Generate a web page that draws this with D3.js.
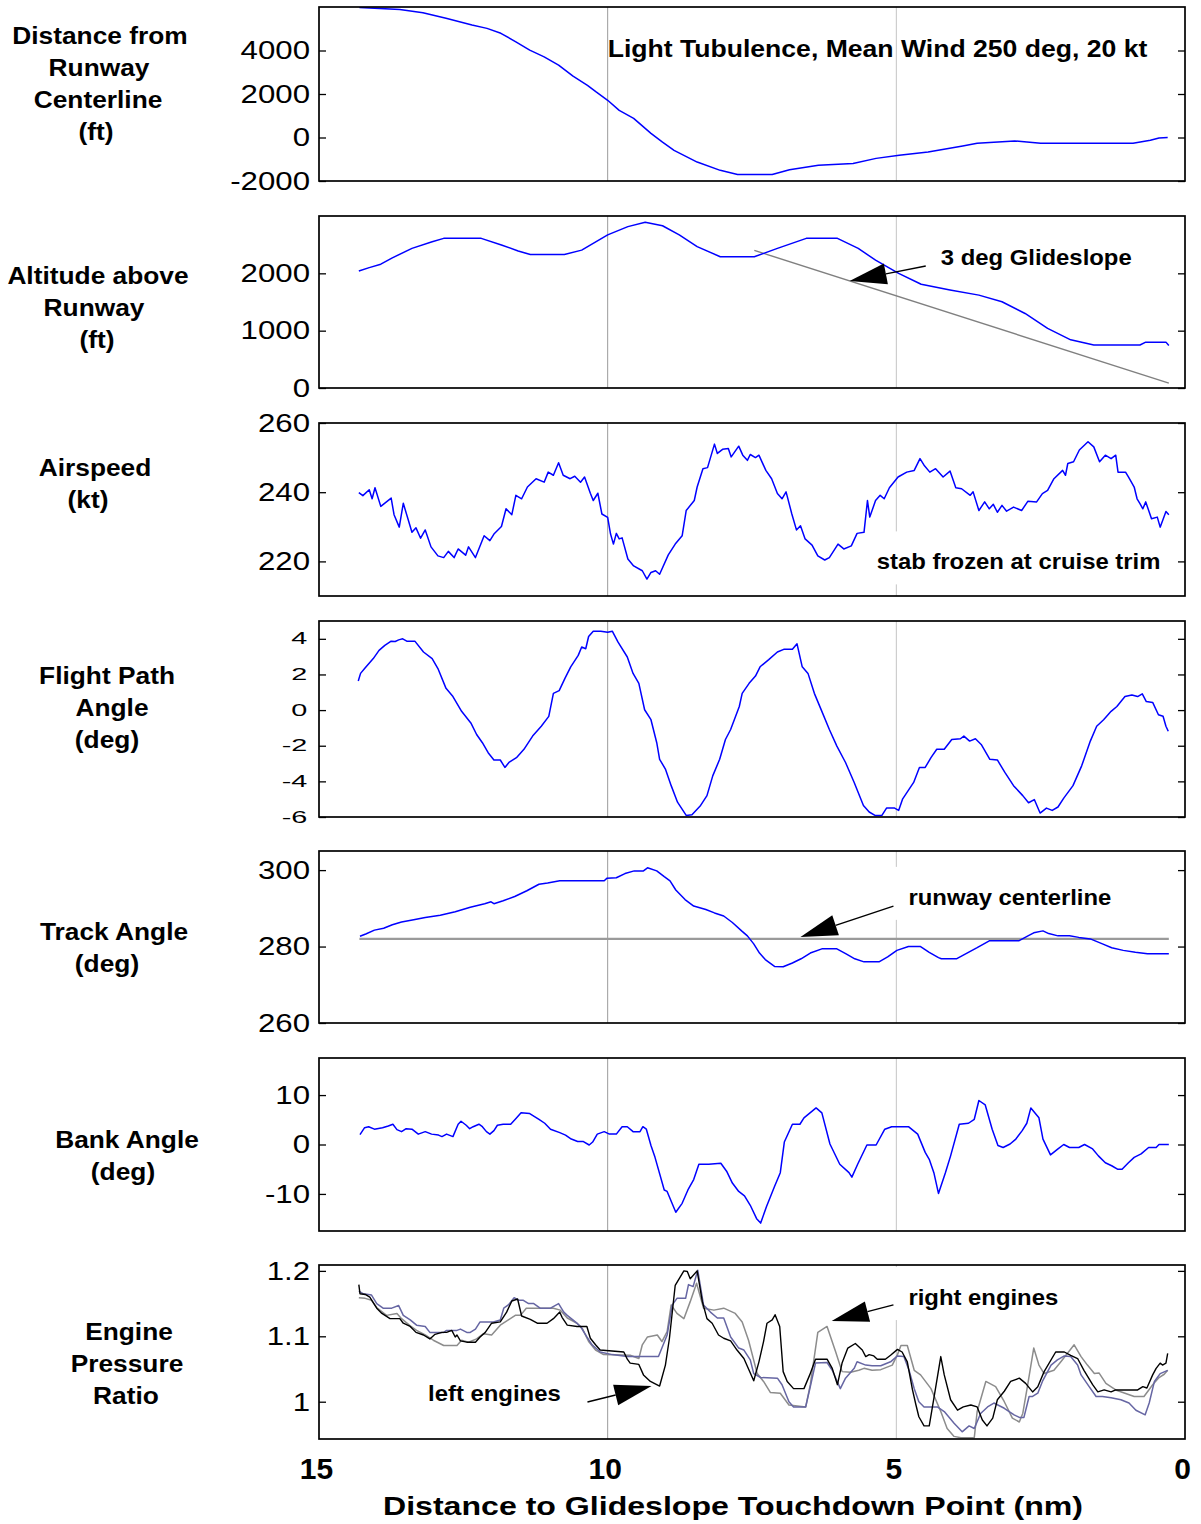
<!DOCTYPE html>
<html>
<head>
<meta charset="utf-8">
<script src="https://cdn.jsdelivr.net/npm/d3@7"></script>
<style>
html,body{margin:0;padding:0;background:#fff;}
svg{display:block;font-family:"Liberation Sans",Arial,Helvetica,sans-serif;}
</style>
</head>
<body>
<svg id="chart" width="1201" height="1524"></svg>
<script>
// ================= DATA (distance to touchdown in nm, value) =================
const xTicks = [15, 10, 5, 0];
const gridDistances = [10, 5];

const ticksCross = [-2000, 0, 2000, 4000];
const ticksAlt = [0, 1000, 2000];
const ticksSpeed = [220, 240, 260];
const ticksFpa = [-6, -4, -2, 0, 2, 4];
const ticksTrack = [260, 280, 300];
const ticksBank = [-10, 0, 10];
const ticksEpr = [1, 1.1, 1.2];

// Distance from runway centerline (ft)
const crossTrack = [[14.3,5980],[13.6,5890],[13.2,5740],[12.8,5480],[12.35,5170],[12.09,5018],[11.85,4790],[11.59,4400],[11.35,4020],[11.10,3710],[10.85,3330],[10.60,2820],[10.35,2400],[10.20,2095],[10.0,1710],[9.80,1250],[9.55,880],[9.25,190],[9.05,-210],[8.85,-590],[8.45,-1130],[8.05,-1510],[7.75,-1700],[7.15,-1700],[6.85,-1480],[6.35,-1280],[5.75,-1200],[5.35,-960],[4.95,-820],[4.45,-670],[3.85,-390],[3.6,-260],[2.95,-160],[2.5,-260],[0.9,-260],[0.6,-130],[0.45,-25],[0.3,0]];

// Altitude above runway (ft)
const altitude = [[14.31,2040],[14.13,2100],[13.93,2160],[13.73,2270],[13.39,2435],[13.04,2550],[12.84,2610],[12.19,2610],[11.84,2495],[11.55,2390],[11.34,2330],[10.75,2330],[10.45,2405],[10.0,2670],[9.65,2815],[9.35,2890],[9.05,2830],[8.76,2670],[8.45,2465],[8.05,2290],[7.46,2290],[7.06,2435],[6.56,2610],[6.02,2610],[5.66,2435],[5.36,2230],[4.96,2000],[4.57,1810],[4.07,1710],[3.57,1620],[3.17,1505],[2.77,1300],[2.38,1040],[1.98,840],[1.58,750],[0.78,750],[0.68,800],[0.33,800],[0.28,740]];
const glideslope = [[7.46,2400],[0.28,85]];

// Airspeed (kt)
const airspeed = [[14.31,239.9],[14.24,239],[14.13,240.7],[14.08,238.1],[14.03,241.3],[13.93,235.9],[13.75,238.3],[13.70,233.5],[13.61,229.9],[13.54,236.8],[13.39,228.4],[13.32,229.7],[13.24,226.7],[13.16,229.1],[13.06,224.2],[12.94,221.6],[12.84,221.1],[12.76,222.9],[12.66,221.1],[12.59,223.6],[12.46,221.8],[12.41,224.2],[12.29,221.1],[12.14,227.4],[12.04,226],[11.97,227.9],[11.84,230.1],[11.76,235.2],[11.66,233.5],[11.59,239.1],[11.49,238.1],[11.39,241.5],[11.24,243.9],[11.10,242.9],[11.03,245.8],[10.94,244.9],[10.85,248.5],[10.77,244.9],[10.65,243.9],[10.57,244.6],[10.47,242.9],[10.40,244.4],[10.30,239.7],[10.25,237.6],[10.17,239.7],[10.10,233.7],[10.00,232.7],[9.95,227.9],[9.90,225],[9.85,228.1],[9.80,226.5],[9.75,226.8],[9.65,220.7],[9.55,218.7],[9.40,217.3],[9.32,214.9],[9.25,216.8],[9.17,217.3],[9.10,216.3],[8.95,221.9],[8.83,225],[8.71,227.4],[8.64,234.7],[8.50,237.6],[8.45,241.5],[8.35,246.8],[8.27,247.1],[8.15,253.9],[8.10,251.2],[8.01,252.4],[7.91,252.6],[7.86,250.2],[7.73,253.3],[7.66,250.7],[7.58,249.2],[7.53,250.9],[7.44,250],[7.38,250.7],[7.26,246.3],[7.16,243.9],[7.06,239.6],[6.98,238.1],[6.91,240.1],[6.81,233.7],[6.73,229.1],[6.66,230.3],[6.58,226.5],[6.46,224.7],[6.36,221.6],[6.24,220.4],[6.16,221.1],[6.01,225],[5.91,223.6],[5.78,224.5],[5.68,228.1],[5.56,228.4],[5.50,237.6],[5.46,232.8],[5.36,237.6],[5.28,239.1],[5.21,238.1],[5.12,241.3],[4.97,244.4],[4.82,245.8],[4.69,246.3],[4.59,249.7],[4.52,247.8],[4.42,245.8],[4.32,246.8],[4.19,244.4],[4.07,246.1],[3.97,241.3],[3.87,241],[3.72,239.1],[3.67,240.1],[3.57,234.7],[3.47,237.2],[3.39,235.2],[3.32,236.5],[3.25,234.2],[3.17,236.2],[3.09,234.5],[2.97,235.7],[2.83,234.7],[2.72,237.4],[2.57,237.2],[2.47,239.6],[2.38,240.5],[2.27,243.9],[2.12,246.3],[2.07,244.9],[2.03,248.3],[1.93,248.8],[1.83,252.2],[1.68,254.6],[1.58,253.1],[1.48,248.8],[1.38,250.7],[1.28,249.7],[1.20,250.7],[1.16,245.8],[1.03,245.8],[0.98,244.4],[0.88,241.5],[0.83,238.1],[0.78,236.7],[0.73,235.2],[0.68,237.2],[0.58,232.3],[0.48,232.8],[0.43,229.9],[0.33,234.4],[0.28,233.5]];

// Flight path angle (deg)
const flightPath = [[14.32,1.63],[14.28,2.06],[14.21,2.33],[14.06,2.89],[13.96,3.35],[13.86,3.63],[13.75,3.87],[13.68,3.85],[13.62,3.94],[13.55,4.0],[13.48,3.87],[13.34,3.87],[13.19,3.26],[13.04,2.89],[12.94,2.33],[12.80,1.22],[12.68,0.76],[12.53,-0.07],[12.37,-0.72],[12.27,-1.37],[12.17,-1.83],[12.07,-2.39],[11.97,-2.80],[11.86,-2.80],[11.78,-3.22],[11.71,-2.94],[11.58,-2.67],[11.45,-2.20],[11.30,-1.46],[11.15,-0.91],[11.02,-0.35],[10.94,0.94],[10.84,1.09],[10.74,1.78],[10.64,2.43],[10.51,3.07],[10.45,3.54],[10.38,3.44],[10.33,4.13],[10.25,4.43],[10.12,4.43],[10.00,4.37],[9.92,4.43],[9.82,3.81],[9.66,2.98],[9.56,2.06],[9.46,1.50],[9.36,0.02],[9.25,-0.54],[9.15,-1.83],[9.10,-2.76],[9.00,-3.31],[8.90,-4.24],[8.79,-5.17],[8.64,-5.91],[8.54,-5.87],[8.39,-5.35],[8.28,-4.80],[8.18,-3.69],[8.06,-2.76],[7.96,-1.65],[7.87,-1.09],[7.72,0.20],[7.67,0.94],[7.55,1.50],[7.44,1.91],[7.36,2.43],[7.21,2.83],[7.06,3.26],[6.95,3.41],[6.80,3.41],[6.72,3.72],[6.63,2.43],[6.53,2.06],[6.42,0.94],[6.29,-0.07],[6.16,-1.09],[6.03,-2.02],[5.88,-2.94],[5.73,-4.06],[5.57,-5.35],[5.47,-5.72],[5.37,-5.91],[5.25,-5.91],[5.17,-5.50],[5.03,-5.50],[4.96,-5.63],[4.89,-4.98],[4.70,-4.06],[4.60,-3.22],[4.50,-3.22],[4.40,-2.67],[4.30,-2.20],[4.17,-2.20],[4.04,-1.65],[3.89,-1.61],[3.83,-1.46],[3.73,-1.74],[3.63,-1.61],[3.53,-1.93],[3.38,-2.76],[3.25,-2.80],[3.12,-3.50],[2.97,-4.24],[2.81,-4.80],[2.71,-5.20],[2.61,-5.02],[2.51,-5.78],[2.40,-5.50],[2.30,-5.63],[2.20,-5.44],[2.10,-4.94],[1.94,-4.24],[1.79,-3.13],[1.64,-1.74],[1.53,-0.91],[1.41,-0.54],[1.28,-0.07],[1.18,0.20],[1.04,0.76],[0.92,0.85],[0.82,0.76],[0.74,0.91],[0.67,0.48],[0.56,0.43],[0.46,-0.26],[0.38,-0.35],[0.33,-0.91],[0.29,-1.19]];

// Track angle (deg)
const trackAngle = [[14.29,282.7],[14.19,283.3],[14.04,284.3],[13.88,284.8],[13.73,285.7],[13.57,286.4],[13.36,287],[13.16,287.6],[12.90,288.2],[12.64,289.1],[12.38,290.3],[12.13,291.2],[12.02,291.7],[11.97,291.2],[11.81,292],[11.61,293.1],[11.40,294.6],[11.19,296.3],[11.04,296.6],[10.83,297.2],[10.06,297.2],[10.01,297.9],[9.85,298],[9.70,299.1],[9.54,299.8],[9.38,299.8],[9.31,300.6],[9.15,299.8],[9.02,298.3],[8.92,297.2],[8.82,294.8],[8.66,292.3],[8.51,290.6],[8.30,289.7],[8.15,288.8],[7.99,288],[7.84,286.3],[7.68,284.1],[7.58,282.8],[7.47,280.7],[7.37,278.3],[7.27,276.6],[7.11,274.8],[6.96,274.7],[6.80,275.7],[6.65,276.8],[6.49,278.3],[6.29,279.4],[6.03,279.4],[5.87,278.1],[5.72,276.8],[5.56,276],[5.30,276],[5.15,277.3],[4.99,279],[4.79,280],[4.58,280],[4.43,278.5],[4.27,277.1],[4.22,276.8],[3.96,276.8],[3.80,278.1],[3.60,279.7],[3.39,281.5],[2.88,281.5],[2.72,282.8],[2.62,283.6],[2.46,284.1],[2.36,283.4],[2.20,282.8],[2.00,282.8],[1.84,282.4],[1.64,282],[1.43,280.7],[1.27,279.7],[1.07,279],[0.86,278.5],[0.65,278.1],[0.28,278.1]];
const runwayCenterline = [[14.3,282],[0.28,282]];

// Bank angle (deg)
const bankAngle = [[14.29,2.0],[14.21,3.4],[14.14,3.6],[14.04,3.1],[13.90,3.4],[13.80,3.75],[13.72,4.1],[13.65,3.0],[13.57,2.6],[13.49,3.2],[13.39,3.1],[13.28,2.1],[13.16,2.6],[13.05,2.1],[12.93,1.9],[12.87,1.6],[12.79,2.1],[12.68,1.6],[12.59,4.1],[12.54,4.7],[12.45,3.9],[12.39,3.2],[12.33,3.6],[12.23,4.1],[12.17,3.6],[12.10,2.6],[12.04,2.1],[11.97,2.8],[11.91,3.9],[11.81,4.1],[11.68,4.1],[11.60,5.1],[11.50,6.4],[11.35,6.25],[11.19,5.1],[11.09,4.3],[10.99,3.1],[10.83,2.4],[10.73,1.9],[10.63,1.1],[10.52,0.6],[10.42,0.6],[10.32,-0.1],[10.26,0.5],[10.18,2.1],[10.06,2.6],[9.97,2.1],[9.85,2.1],[9.75,3.6],[9.66,3.6],[9.56,2.6],[9.44,2.6],[9.39,3.6],[9.33,3.1],[9.25,-0.2],[9.18,-2.6],[9.02,-9.2],[8.97,-9.5],[8.82,-13.7],[8.71,-11.9],[8.61,-9.2],[8.51,-7.1],[8.42,-4.0],[8.25,-4.0],[8.04,-3.8],[7.94,-5.4],[7.84,-7.8],[7.73,-9.5],[7.63,-10.4],[7.53,-12.3],[7.42,-15.0],[7.35,-15.9],[7.25,-12.6],[7.11,-8.5],[7.01,-5.7],[6.94,0.5],[6.80,4.1],[6.67,4.1],[6.60,5.4],[6.39,7.4],[6.29,6.4],[6.15,0.1],[5.98,-4.0],[5.82,-5.7],[5.77,-6.6],[5.67,-4.0],[5.51,-0.1],[5.35,-0.1],[5.20,3.1],[5.08,3.6],[4.79,3.6],[4.63,2.1],[4.50,-1.6],[4.43,-3.0],[4.35,-5.7],[4.27,-9.9],[4.15,-5.7],[4.06,-2.3],[3.91,4.1],[3.75,4.3],[3.65,5.1],[3.57,8.9],[3.46,8.0],[3.34,3.1],[3.24,-0.2],[3.15,-0.6],[3.03,0.1],[2.93,1.1],[2.82,2.8],[2.74,4.3],[2.67,7.4],[2.53,5.4],[2.46,1.1],[2.33,-2.1],[2.20,-0.9],[2.10,0],[2.00,-0.6],[1.84,-0.6],[1.74,0],[1.60,-0.9],[1.50,-2.3],[1.38,-3.7],[1.27,-4.3],[1.17,-5.0],[1.09,-5.0],[0.98,-3.7],[0.88,-2.6],[0.76,-1.9],[0.63,-0.6],[0.50,-0.6],[0.45,0],[0.28,0]];

// Engine pressure ratio
const eprLeft = [[14.31,1.179],[14.29,1.165],[14.20,1.164],[14.12,1.160],[14.00,1.143],[13.91,1.135],[13.77,1.127],[13.60,1.127],[13.54,1.120],[13.42,1.115],[13.32,1.106],[13.19,1.102],[13.08,1.096],[12.99,1.103],[12.87,1.106],[12.79,1.106],[12.70,1.109],[12.64,1.099],[12.61,1.102],[12.55,1.093],[12.44,1.091],[12.29,1.091],[12.21,1.099],[12.12,1.106],[12.01,1.120],[11.86,1.122],[11.75,1.137],[11.66,1.154],[11.56,1.157],[11.49,1.131],[11.34,1.126],[11.22,1.120],[11.05,1.120],[10.94,1.127],[10.83,1.137],[10.79,1.129],[10.70,1.117],[10.53,1.115],[10.36,1.115],[10.30,1.097],[10.21,1.087],[10.13,1.079],[9.72,1.076],[9.66,1.065],[9.61,1.059],[9.46,1.057],[9.38,1.041],[9.26,1.031],[9.10,1.024],[9.00,1.056],[8.93,1.097],[8.83,1.178],[8.68,1.200],[8.62,1.199],[8.57,1.188],[8.45,1.200],[8.36,1.153],[8.28,1.127],[8.19,1.120],[8.08,1.102],[7.99,1.097],[7.87,1.093],[7.76,1.079],[7.64,1.066],[7.47,1.032],[7.38,1.061],[7.30,1.092],[7.24,1.120],[7.15,1.125],[7.10,1.133],[7.02,1.115],[6.96,1.046],[6.89,1.031],[6.78,1.020],[6.60,1.020],[6.50,1.041],[6.40,1.065],[6.20,1.065],[6.11,1.051],[6.02,1.026],[5.94,1.059],[5.84,1.082],[5.71,1.089],[5.59,1.079],[5.53,1.069],[5.47,1.072],[5.39,1.070],[5.33,1.065],[5.19,1.065],[5.10,1.071],[4.98,1.080],[4.90,1.076],[4.81,1.061],[4.72,1.018],[4.66,0.995],[4.61,0.977],[4.52,0.963],[4.43,0.963],[4.35,1.005],[4.23,1.069],[4.17,1.041],[4.06,1.003],[3.94,0.987],[3.84,0.992],[3.71,0.995],[3.60,0.992],[3.51,0.972],[3.43,0.963],[3.33,0.975],[3.25,1.003],[3.13,1.016],[3.02,1.031],[2.87,1.036],[2.76,1.028],[2.64,1.015],[2.55,1.023],[2.44,1.046],[2.24,1.076],[2.09,1.076],[1.98,1.071],[1.86,1.066],[1.75,1.048],[1.60,1.026],[1.51,1.015],[1.40,1.018],[1.28,1.015],[1.20,1.018],[0.82,1.018],[0.73,1.023],[0.66,1.021],[0.56,1.041],[0.50,1.051],[0.43,1.059],[0.39,1.056],[0.33,1.059],[0.30,1.074]];
const eprMid = [[14.31,1.169],[14.23,1.165],[14.09,1.163],[14.00,1.150],[13.89,1.143],[13.74,1.143],[13.62,1.147],[13.54,1.132],[13.42,1.125],[13.31,1.117],[13.16,1.115],[13.08,1.106],[12.84,1.106],[12.79,1.109],[12.61,1.109],[12.55,1.111],[12.44,1.106],[12.38,1.106],[12.29,1.111],[12.21,1.122],[11.98,1.122],[11.86,1.125],[11.80,1.143],[11.72,1.148],[11.62,1.159],[11.54,1.155],[11.46,1.155],[11.37,1.150],[11.28,1.150],[11.17,1.143],[10.99,1.143],[10.85,1.150],[10.76,1.137],[10.70,1.132],[10.56,1.122],[10.47,1.115],[10.36,1.099],[10.27,1.087],[10.13,1.076],[9.92,1.072],[9.66,1.069],[9.12,1.069],[8.97,1.102],[8.88,1.148],[8.80,1.158],[8.65,1.158],[8.60,1.179],[8.52,1.176],[8.44,1.201],[8.34,1.148],[8.22,1.137],[8.10,1.128],[7.99,1.128],[7.87,1.099],[7.73,1.082],[7.64,1.079],[7.53,1.064],[7.47,1.043],[7.35,1.037],[7.06,1.036],[6.98,1.026],[6.86,1.000],[6.78,0.992],[6.57,0.992],[6.49,1.023],[6.40,1.059],[6.20,1.060],[6.11,1.048],[5.97,1.020],[5.88,1.036],[5.73,1.051],[5.68,1.061],[5.53,1.056],[5.42,1.055],[5.27,1.055],[5.10,1.061],[4.98,1.070],[4.87,1.069],[4.78,1.048],[4.69,1.020],[4.61,1.000],[4.52,0.992],[4.29,0.992],[4.17,0.985],[4.00,0.967],[3.86,0.954],[3.74,0.963],[3.65,0.959],[3.54,0.982],[3.42,0.992],[3.31,0.998],[3.13,0.990],[2.96,0.980],[2.87,0.976],[2.79,0.976],[2.70,1.008],[2.64,1.008],[2.55,1.013],[2.47,1.031],[2.32,1.056],[2.21,1.064],[2.09,1.070],[1.98,1.069],[1.86,1.056],[1.80,1.041],[1.66,1.023],[1.54,1.008],[1.43,1.008],[1.28,1.006],[1.11,1.003],[0.97,0.998],[0.85,0.987],[0.69,0.980],[0.62,0.998],[0.53,1.031],[0.43,1.043],[0.30,1.048]];
const eprRight = [[14.31,1.159],[14.20,1.158],[14.09,1.155],[14.00,1.144],[13.83,1.132],[13.65,1.135],[13.57,1.127],[13.42,1.116],[13.31,1.109],[13.16,1.102],[13.02,1.094],[12.84,1.086],[12.61,1.086],[12.53,1.094],[12.41,1.091],[12.27,1.096],[12.15,1.104],[12.01,1.102],[11.86,1.117],[11.72,1.125],[11.60,1.132],[11.51,1.132],[11.41,1.143],[10.94,1.143],[10.82,1.140],[10.70,1.128],[10.53,1.120],[10.44,1.112],[10.33,1.092],[10.21,1.079],[10.07,1.072],[9.61,1.071],[9.46,1.066],[9.40,1.087],[9.31,1.099],[9.14,1.102],[9.06,1.092],[8.97,1.107],[8.90,1.148],[8.80,1.135],[8.68,1.127],[8.57,1.153],[8.46,1.181],[8.34,1.143],[8.16,1.140],[7.99,1.143],[7.79,1.135],[7.67,1.122],[7.56,1.094],[7.41,1.043],[7.30,1.031],[7.18,1.014],[7.01,1.013],[6.86,0.995],[6.57,0.992],[6.49,1.026],[6.36,1.106],[6.20,1.115],[6.05,1.076],[5.94,1.046],[5.79,1.045],[5.65,1.048],[5.56,1.051],[5.42,1.048],[5.27,1.049],[5.07,1.056],[4.98,1.072],[4.92,1.086],[4.81,1.086],[4.69,1.048],[4.58,1.041],[4.40,1.020],[4.23,0.985],[4.12,0.959],[4.00,0.947],[3.88,0.945],[3.65,0.945],[3.60,0.985],[3.45,1.031],[3.28,1.023],[3.13,1.000],[2.99,0.975],[2.87,0.969],[2.81,0.982],[2.73,1.023],[2.62,1.082],[2.53,1.056],[2.44,1.043],[2.27,1.048],[2.15,1.061],[1.92,1.087],[1.80,1.069],[1.69,1.056],[1.57,1.043],[1.49,1.044],[1.37,1.028],[1.20,1.018],[0.88,1.008],[0.71,1.008],[0.56,1.026],[0.45,1.037],[0.36,1.042],[0.30,1.048]];

// Annotation texts (anchored in data units) and arrows
const annotationTexts = [
  {panel:0, text:"Light Tubulence, Mean Wind 250 deg, 20 kt", d:10.0, v:4100, big:true},
  {panel:1, text:"3 deg Glideslope", d:4.23, v:2285},
  {panel:2, text:"stab frozen at cruise trim", d:5.34, v:220, bg:[6,6]},
  {panel:4, text:"runway centerline", d:4.79, v:293, bg:[20,6]},
  {panel:6, text:"right engines", d:4.79, v:1.160, bg:[20,6]},
  {panel:6, text:"left engines", d:13.11, v:1.013}
];
const annotationArrows = [
  {panel:1, tip:[5.81,1866], tail:[4.49,2128]},
  {panel:4, tip:[6.66,282.5], tail:[5.05,290.6]},
  {panel:6, tip:[6.12,1.1234], tail:[5.05,1.148]},
  {panel:6, tip:[9.24,1.024], tail:[10.35,0.9996]}
];

// ================= LAYOUT =================
const BLUE = "#0000ff";
const panels = [
  {top:7,    bottom:181,  domain:[-2000,6000], ticks:ticksCross,
   label:[["Distance from",100],["Runway",99],["Centerline",98],["(ft)",96]], labelY:35,
   lines:[{data:crossTrack, color:BLUE, w:1.5}]},
  {top:216,  bottom:388,  domain:[0,3000], ticks:ticksAlt,
   label:[["Altitude above",98],["Runway",94],["(ft)",97]], labelY:275,
   lines:[{data:glideslope, color:"#808080", w:1.4},{data:altitude, color:BLUE, w:1.5}]},
  {top:423,  bottom:596,  domain:[210,260], ticks:ticksSpeed,
   label:[["Airspeed",95],["(kt)",88]], labelY:467,
   lines:[{data:airspeed, color:BLUE, w:1.5}]},
  {top:621,  bottom:817,  domain:[-6,5], ticks:ticksFpa, small:true,
   label:[["Flight Path",107],["Angle",112],["(deg)",107]], labelY:675,
   lines:[{data:flightPath, color:BLUE, w:1.5}]},
  {top:851,  bottom:1023, domain:[260,305], ticks:ticksTrack,
   label:[["Track Angle",114],["(deg)",107]], labelY:931,
   lines:[{data:runwayCenterline, color:"#9a9a9a", w:2.4},{data:trackAngle, color:BLUE, w:1.5}]},
  {top:1058, bottom:1231, domain:[-17.5,17.5], ticks:ticksBank,
   label:[["Bank Angle",127],["(deg)",123]], labelY:1139,
   lines:[{data:bankAngle, color:BLUE, w:1.5}]},
  {top:1265, bottom:1439, domain:[0.943,1.209], ticks:ticksEpr,
   label:[["Engine",129],["Pressure",127],["Ratio",126]], labelY:1331,
   lines:[{data:eprRight, color:"#8c8c8c", w:1.5},{data:eprMid, color:"#6666a3", w:1.5},{data:eprLeft, color:"#000000", w:1.4}]}
];

const plainFormat = d => String(d);   // hyphen-minus like the reference
const xLeft = 319, xRight = 1185;
const x = d3.scaleLinear().domain([15, 0]).range([xLeft, xRight]);
const svg = d3.select("#chart");
svg.append("rect").attr("width",1201).attr("height",1524).attr("fill","#fff");

function stretchedText(g, px, py, str, size, sx, anchor, weight) {
  return g.append("text")
    .attr("transform", `translate(${px},${py}) scale(${sx},1)`)
    .attr("text-anchor", anchor)
    .attr("font-size", size)
    .attr("font-weight", weight)
    .attr("fill", "#000")
    .text(str);
}

panels.forEach((p, i) => {
  const y = d3.scaleLinear().domain(p.domain).range([p.bottom, p.top]);
  p.y = y;
  const g = svg.append("g");
  p.g = g;

  const cid = "clip" + i;
  svg.append("clipPath").attr("id", cid).append("rect")
    .attr("x", xLeft).attr("y", p.top).attr("width", xRight - xLeft).attr("height", p.bottom - p.top);

  g.selectAll("line.grid").data(gridDistances).join("line")
    .attr("x1", d => x(d)).attr("x2", d => x(d))
    .attr("y1", p.top).attr("y2", p.bottom)
    .attr("stroke", (d, k) => k === 0 ? "#9c9c9c" : "#c4c4c4")
    .attr("stroke-width", 1);

  const fs = p.small ? 16 : 26;
  const sx = p.small ? 1.8 : 1.2;
  const axL = g.append("g").attr("transform", `translate(${xLeft},0)`)
    .call(d3.axisLeft(y).tickValues(p.ticks).tickSize(-7).tickPadding(p.small ? 6.5 : 7.5).tickFormat(plainFormat));
  axL.select(".domain").remove();
  axL.selectAll("line").attr("stroke", "#000").attr("stroke-width", 1.3);
  axL.selectAll("text")
    .attr("font-family", '"Liberation Sans",Arial,sans-serif')
    .attr("font-size", fs).attr("fill", "#000")
    .attr("transform", `scale(${sx},1)`);
  axL.attr("font-size", fs);

  const axR = g.append("g").attr("transform", `translate(${xRight},0)`)
    .call(d3.axisRight(y).tickValues(p.ticks).tickSize(-7).tickFormat(""));
  axR.select(".domain").remove();
  axR.selectAll("line").attr("stroke", "#000").attr("stroke-width", 1.3);

  p.label.forEach(([s, cx], k) => {
    stretchedText(svg, cx, p.labelY + k * 32 + 8.5, s, 23.5, 1.12, "middle", "bold");
  });

  p.linesG = svg.append("g").attr("clip-path", `url(#${cid})`);
});

annotationTexts.forEach(a => {
  const p = panels[a.panel];
  const size = a.big ? 24 : 21.5;
  const sx = a.big ? 1.108 : 1.11;
  const px = x(a.d), cy = p.y(a.v);
  if (a.bg) {
    const bgRect = p.g.append("rect").attr("fill", "#fff");
    const t = stretchedText(svg, px, cy + 0.36 * size, a.text, size, sx, "start", "bold").attr("opacity", 0);
    const w = t.node().getComputedTextLength() * sx;
    t.remove();
    const top = Math.max(p.top + 1, cy - 30);
    bgRect.attr("x", px - a.bg[0]).attr("y", top)
      .attr("width", w + a.bg[0] + a.bg[1]).attr("height", cy + 23 - top);
  }
  a.px = px; a.cy = cy; a.size = size; a.sx = sx;
});

panels.forEach(p => {
  p.lines.forEach(L => {
    const line = d3.line().x(d => x(d[0])).y(d => p.y(d[1]));
    p.linesG.append("path").datum(L.data)
      .attr("d", line).attr("fill", "none")
      .attr("stroke", L.color).attr("stroke-width", L.w)
      .attr("stroke-linejoin", "round");
  });
});

panels.forEach(p => {
  svg.append("rect").attr("x", xLeft).attr("y", p.top)
    .attr("width", xRight - xLeft).attr("height", p.bottom - p.top)
    .attr("fill", "none").attr("stroke", "#000").attr("stroke-width", 1.7);
});

annotationTexts.forEach(a => {
  stretchedText(svg, a.px, a.cy + 0.36 * a.size, a.text, a.size, a.sx, "start", "bold");
});

annotationArrows.forEach(A => {
  const p = panels[A.panel];
  const tx = x(A.tip[0]), ty = p.y(A.tip[1]);
  const ex = x(A.tail[0]), ey = p.y(A.tail[1]);
  const len = Math.hypot(ex - tx, ey - ty);
  const ux = (ex - tx) / len, uy = (ey - ty) / len;
  const headL = 37, headW = 10.5;
  const bx = tx + ux * headL, by = ty + uy * headL;
  svg.append("line").attr("x1", bx).attr("y1", by).attr("x2", ex).attr("y2", ey)
    .attr("stroke", "#000").attr("stroke-width", 1.4);
  svg.append("path")
    .attr("d", `M${tx},${ty}L${bx - uy * headW},${by + ux * headW}L${bx + uy * headW},${by - ux * headW}Z`)
    .attr("fill", "#000");
});

const last = panels[panels.length - 1];
const axB = svg.append("g").attr("transform", `translate(-3,${last.bottom})`)
  .call(d3.axisBottom(x).tickValues(xTicks).tickSize(0).tickPadding(19).tickFormat(plainFormat));
axB.select(".domain").remove();
axB.selectAll("text")
  .attr("font-family", '"Liberation Sans",Arial,sans-serif')
  .attr("font-size", 30).attr("font-weight", "bold").attr("fill", "#000");

svg.append("text")
  .attr("x", 733).attr("y", 1515)
  .attr("text-anchor", "middle")
  .attr("font-size", 26).attr("font-weight", "bold").attr("fill", "#000")
  .attr("textLength", 700).attr("lengthAdjust", "spacingAndGlyphs")
  .text("Distance to Glideslope Touchdown Point (nm)");
</script>
</body>
</html>
